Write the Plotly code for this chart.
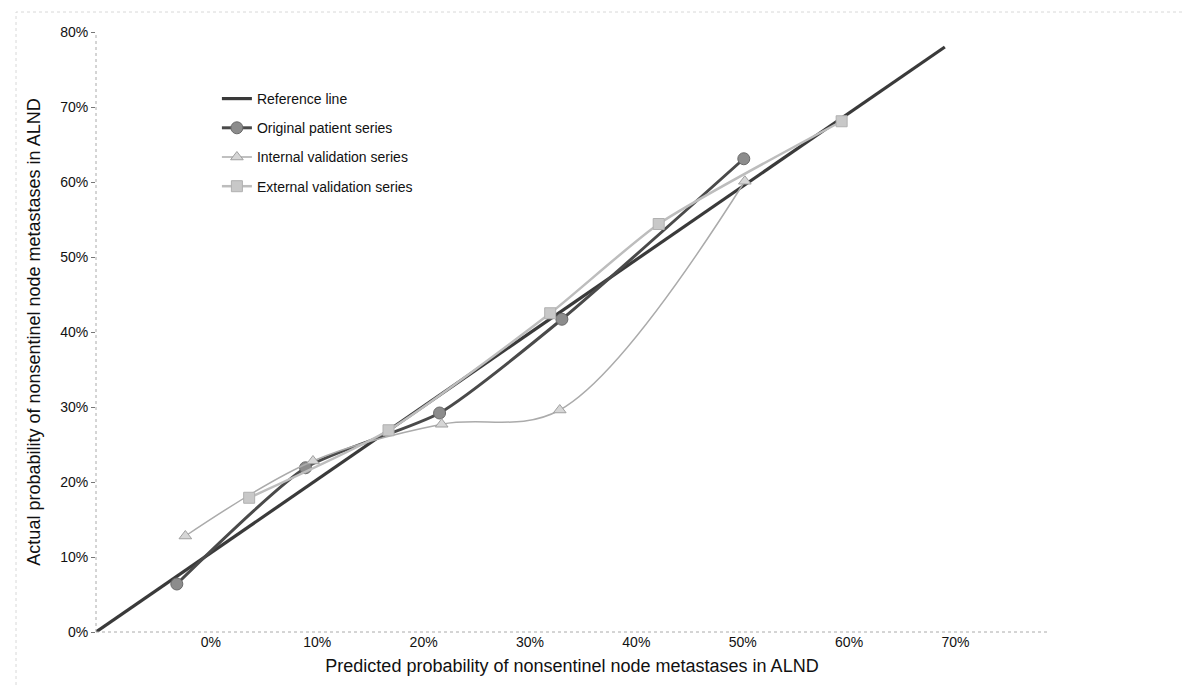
import plotly.graph_objects as go

# ---- data (probabilities in %) ----
ref_x = [-10.8, 69.0]
ref_y = [0.0, 78.0]

orig_x = [-3.2, 8.9, 21.5, 33.0, 50.1]
orig_y = [6.4, 21.9, 29.2, 41.7, 63.1]

int_x = [-2.4, 9.6, 21.7, 32.8, 50.2]
int_y = [12.8, 22.8, 27.7, 29.6, 60.1]

ext_x = [3.6, 16.7, 31.9, 42.1, 59.3]
ext_y = [17.9, 26.9, 42.5, 54.4, 68.1]

x_ticks = [0, 10, 20, 30, 40, 50, 60, 70]
y_ticks = [0, 10, 20, 30, 40, 50, 60, 70, 80]
x_labels = [f"{v}%" for v in x_ticks]
y_labels = [f"{v}%" for v in y_ticks]

FONT = "Arial, Liberation Sans, sans-serif"

fig = go.Figure()
fig.add_trace(go.Scatter(
    x=ref_x, y=ref_y, mode="lines", name="Reference line",
    line=dict(color="#3a3a3a", width=3.2), legendgroup="a"))
fig.add_trace(go.Scatter(
    x=orig_x, y=orig_y, mode="lines+markers", name="Original patient series",
    line=dict(color="#4a4a4a", width=3, shape="spline", smoothing=0.6),
    marker=dict(symbol="circle", size=12, color="#8c8c8c",
                line=dict(color="#6a6a6a", width=1)), legendgroup="b"))
fig.add_trace(go.Scatter(
    x=int_x, y=int_y, mode="lines+markers", name="Internal validation series",
    line=dict(color="#ababab", width=1.5, shape="spline", smoothing=1.0),
    marker=dict(symbol="triangle-up", size=11, color="#d6d6d6",
                line=dict(color="#a0a0a0", width=1)), legendgroup="c"))
fig.add_trace(go.Scatter(
    x=ext_x, y=ext_y, mode="lines+markers", name="External validation series",
    line=dict(color="#bdbdbd", width=2.5, shape="spline", smoothing=0.6),
    marker=dict(symbol="square", size=11, color="#c8c8c8",
                line=dict(color="#b0b0b0", width=1)), legendgroup="d"))

PLOT_L, PLOT_R = 88, 1040
fig.update_layout(
    width=1193, height=686,
    paper_bgcolor="white", plot_bgcolor="white",
    margin=dict(l=PLOT_L, r=1193 - PLOT_R, t=24, b=62),
    font=dict(family=FONT, color="#111111", size=14),
    showlegend=True,
    legend=dict(x=0.127, y=0.915, xanchor="left", yanchor="top",
                bgcolor="rgba(0,0,0,0)", font=dict(size=14, family=FONT),
                traceorder="grouped", tracegroupgap=8, itemwidth=30),
    xaxis=dict(range=[-10.8, 78.7], tickvals=x_ticks, ticktext=x_labels,
               showgrid=False, zeroline=False, showline=False, ticks="",
               tickfont=dict(size=14, family=FONT),
               title=dict(text="Predicted probability of nonsentinel node metastases in ALND",
                          font=dict(size=18, family=FONT), standoff=10)),
    yaxis=dict(range=[0, 80], tickvals=y_ticks, ticktext=y_labels,
               showgrid=False, zeroline=False, showline=False,
               ticks="outside", ticklen=4, tickcolor="#777777",
               tickfont=dict(size=14, family=FONT),
               title=dict(text="Actual probability of nonsentinel node metastases in ALND",
                          font=dict(size=18, family=FONT), standoff=14)),
    shapes=[
        dict(type="line", xref="paper", yref="paper", x0=0, x1=0, y0=0, y1=1,
             line=dict(color="#aaaaaa", width=1, dash="dot")),
        dict(type="line", xref="paper", yref="paper", x0=0, x1=1, y0=0, y1=0,
             line=dict(color="#aaaaaa", width=1, dash="dot")),
        dict(type="rect", xref="paper", yref="paper",
             x0=(8 - PLOT_L) / (PLOT_R - PLOT_L), x1=(1188 - PLOT_L) / (PLOT_R - PLOT_L),
             y0=(62 - 4) / -600.0, y1=1 + 20 / 600.0,
             line=dict(color="#d8d8d8", width=1, dash="dot")),
    ],
)

fig.write_html("out.html")
